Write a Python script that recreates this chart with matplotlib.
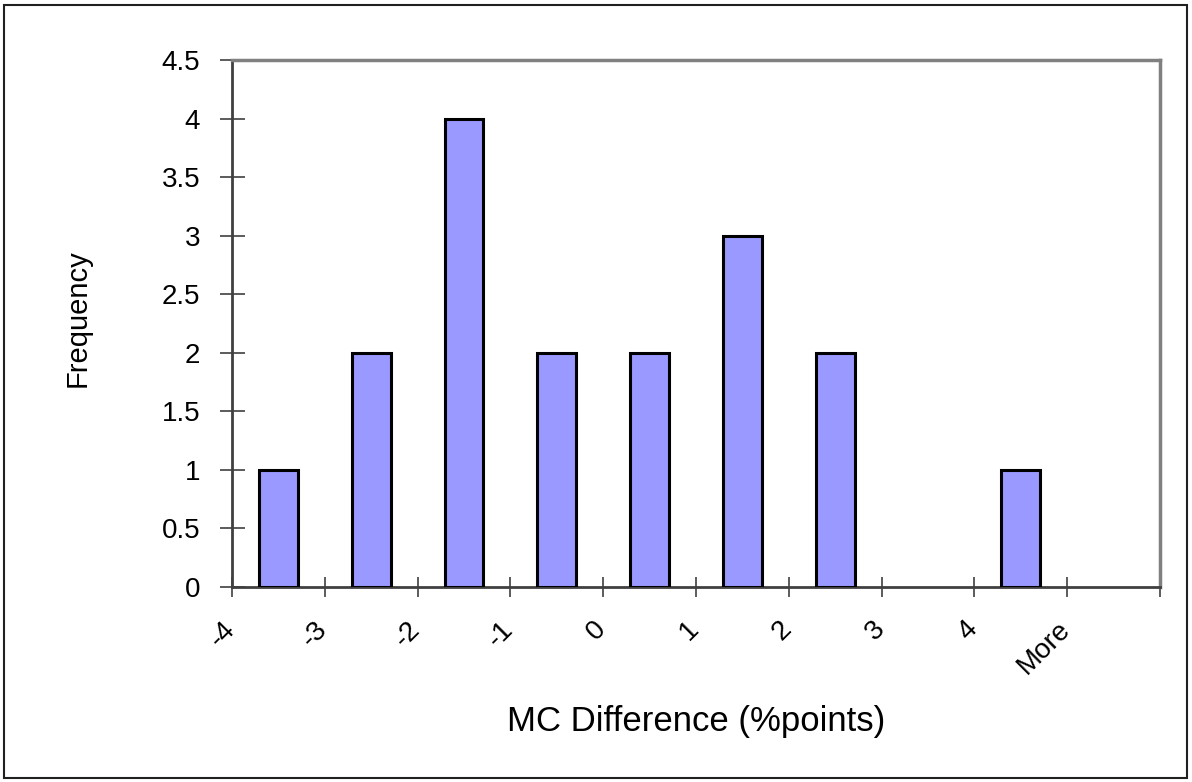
import numpy as np
import matplotlib
matplotlib.use("Agg")
import matplotlib.pyplot as plt
import matplotlib.transforms as mtransforms
from matplotlib.patches import Rectangle

plt.rcParams['font.family'] = ['Liberation Sans', 'DejaVu Sans']

# histogram bins and counts
bins = ["-4", "-3", "-2", "-1", "0", "1", "2", "3", "4", "More"]
counts = [1, 2, 4, 2, 2, 3, 2, 0, 1, 0]
y_ticks = [0, 0.5, 1, 1.5, 2, 2.5, 3, 3.5, 4, 4.5]
y_labels = ["0", "0.5", "1", "1.5", "2", "2.5", "3", "3.5", "4", "4.5"]

W, H = 1192, 782
fig = plt.figure(figsize=(W / 100, H / 100), dpi=100)
fig.patch.set_facecolor("white")

# outer chart border
fig.patches.append(Rectangle((4 / W, 4 / H), (W - 9) / W, (H - 9) / H,
                             transform=fig.transFigure, fill=False,
                             edgecolor="#202020", linewidth=1.5))

ax = fig.add_axes([232 / W, 1 - 587 / H, 928 / W, 527 / H])

x = np.arange(len(bins)) + 0.5
bars = ax.bar(x, counts, width=0.42, color="#9999FF", edgecolor="black",
              linewidth=2.2, zorder=3)
# empty bins show nothing in the original
for b, c in zip(bars, counts):
    if c == 0:
        b.set_visible(False)

ax.set_xlim(0, len(bins))
ax.set_ylim(0, 4.5)

ax.set_yticks(y_ticks)
ax.set_yticklabels(y_labels, fontsize=20)
ax.set_xticks(np.arange(len(bins) + 1))
ax.set_xticklabels(bins + [""], fontsize=20, rotation=45, ha="right", va="top")

ax.tick_params(axis="y", direction="inout", length=18, width=1.2,
               color="#404040", pad=14)
ax.tick_params(axis="x", direction="inout", length=14, width=1.2,
               color="#404040", pad=14)

# shift rotated labels a little right like the original
offset = mtransforms.ScaledTranslation(8 / 100, 0, fig.dpi_scale_trans)
for lab in ax.get_xticklabels():
    lab.set_transform(lab.get_transform() + offset)

for side in ["left", "bottom"]:
    ax.spines[side].set_color("#404040")
    ax.spines[side].set_linewidth(2.0)
for side in ["top", "right"]:
    ax.spines[side].set_color("#808080")
    ax.spines[side].set_linewidth(2.5)

fig.text(78 / W, 1 - 318 / H, "Frequency", rotation=90, fontsize=21,
         ha="center", va="center")
fig.text(696 / W, 1 - 722 / H, "MC Difference (%points)", fontsize=25,
         ha="center", va="center")

fig.savefig("out.png", dpi=100)
